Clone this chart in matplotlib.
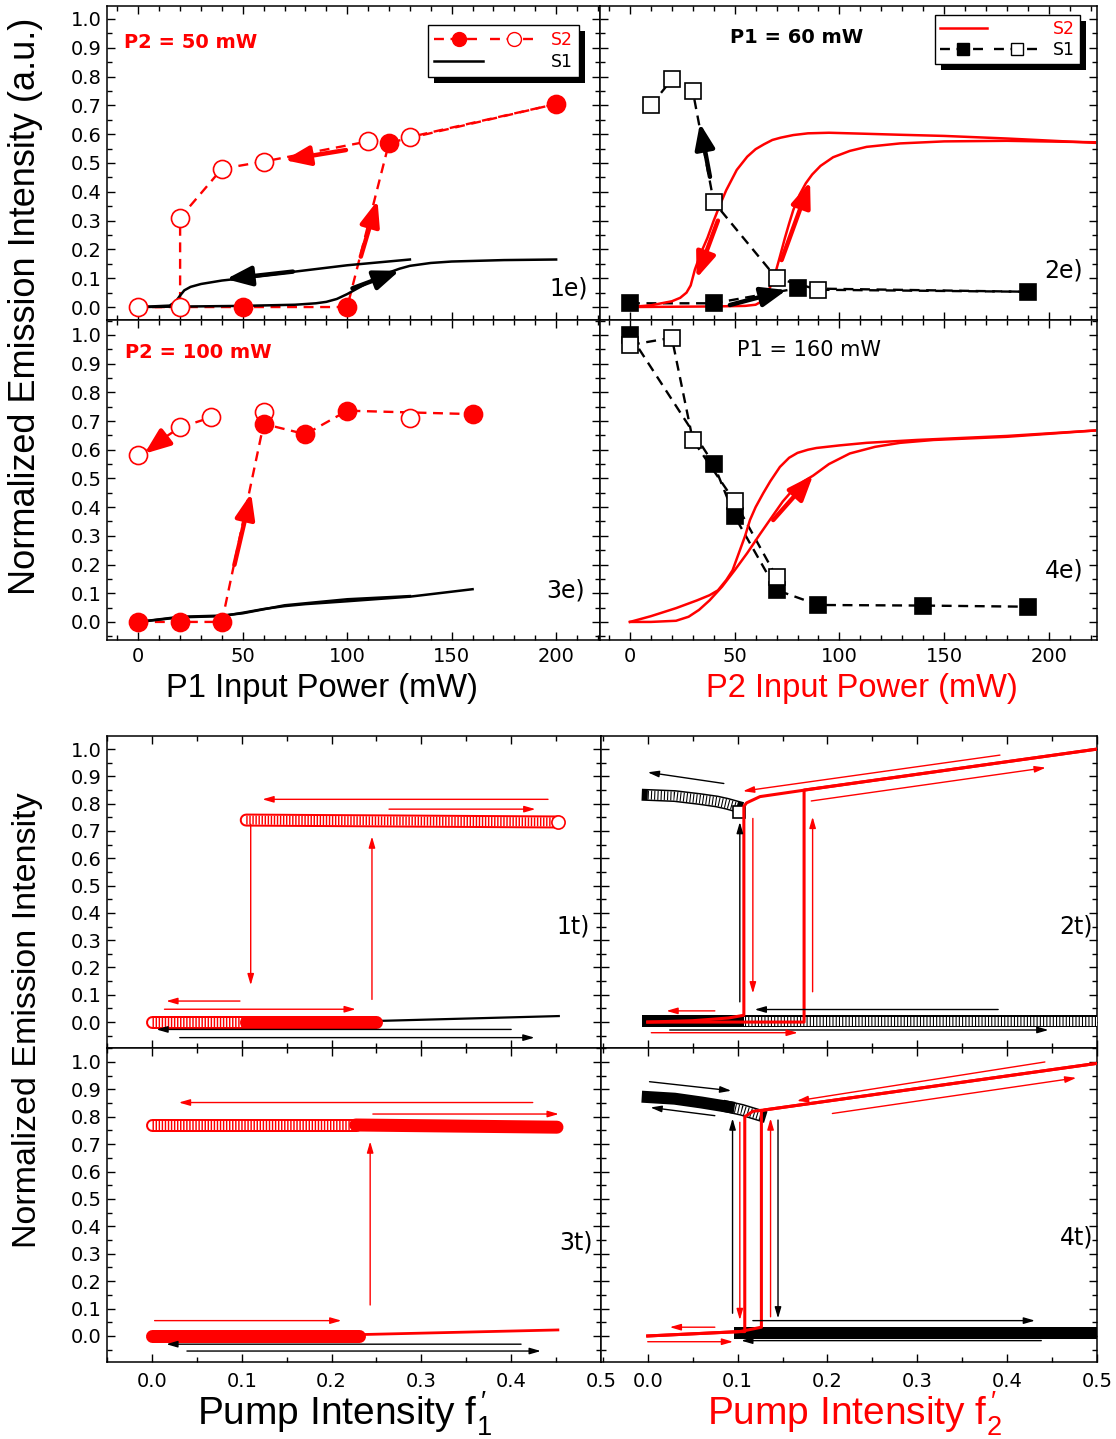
import numpy as np
import matplotlib
matplotlib.use("Agg")
import matplotlib.pyplot as plt
from matplotlib.lines import Line2D
from matplotlib.patches import Rectangle
from matplotlib.transforms import IdentityTransform
from matplotlib.legend_handler import HandlerTuple
from matplotlib.ticker import FixedLocator, MultipleLocator, FormatStrFormatter

plt.rcParams['font.family'] = ['DejaVu Sans']
plt.rcParams['mathtext.fontset'] = 'custom'
plt.rcParams['mathtext.rm'] = 'Liberation Sans'
plt.rcParams['axes.linewidth'] = 1.1

RED = '#ff0000'
W, H = 1116, 1439
PX = 0.72   # points per pixel at dpi 100
LABEL_FONT = 'Liberation Sans'
DASH = (4.2, 2.8)

# ---------------- experiment (top block) ----------------
top_xticks = [0, 50, 100, 150, 200]
bot_xticks = [0.0, 0.1, 0.2, 0.3, 0.4, 0.5]
yticks = [0.0, 0.1, 0.2, 0.3, 0.4, 0.5, 0.6, 0.7, 0.8, 0.9, 1.0]

# 1e: P2 = 50 mW, x = P1 (mW)
e1_s2_fill_x = [50, 100, 120, 200]
e1_s2_fill_y = [0.0, 0.0, 0.57, 0.705]
e1_s2_open_x = [0, 20, 20, 40, 60, 110, 130]
e1_s2_open_y = [0.0, 0.0, 0.31, 0.48, 0.505, 0.575, 0.59]
e1_s1_up_x = [0, 50, 75, 85, 90, 95, 100, 105, 110, 115, 120, 125, 130, 140, 150, 175, 200]
e1_s1_up_y = [0.0, 0.004, 0.008, 0.013, 0.018, 0.028, 0.045, 0.065, 0.085, 0.104, 0.12, 0.133,
              0.143, 0.153, 0.158, 0.163, 0.165]
e1_s1_dn_x = [130, 100, 75, 50, 40, 30, 25, 22, 20, 18, 15, 0]
e1_s1_dn_y = [0.165, 0.145, 0.123, 0.1, 0.092, 0.08, 0.07, 0.058, 0.04, 0.02, 0.005, 0.0]
e1_arrows = [(102.5, 0.065, 125, 0.126, 'black'), (74, 0.123, 42, 0.097, 'black'),
             (106.5, 0.175, 114.5, 0.37, RED), (99.4, 0.545, 70, 0.51, RED)]

# 2e: P1 = 60 mW, x = P2 (mW)
e2_s1_fill_x = [0, 40, 80, 190]
e2_s1_fill_y = [0.013, 0.013, 0.065, 0.053]
e2_s1_open_x = [10, 20, 30, 40, 70, 90]
e2_s1_open_y = [0.70, 0.79, 0.75, 0.365, 0.10, 0.06]
e2_s2_up_x = [0, 40, 55, 60, 63, 65, 67, 69.5, 71.6, 74, 76, 78, 81, 84, 87, 91, 97, 105, 113,
              129, 150, 180, 222]
e2_s2_up_y = [0.0, 0.002, 0.004, 0.008, 0.02, 0.04, 0.07, 0.12, 0.175, 0.24, 0.29, 0.337, 0.39,
              0.43, 0.46, 0.49, 0.52, 0.542, 0.556, 0.568, 0.575, 0.577, 0.572]
e2_s2_dn_x = [222, 180, 150, 129, 110, 95, 85, 78, 72, 68, 64, 60, 56, 51, 46, 43, 40, 37, 34,
              31, 29, 27, 24, 20, 10, 0]
e2_s2_dn_y = [0.57, 0.585, 0.594, 0.598, 0.602, 0.605, 0.603, 0.597, 0.588, 0.58, 0.565, 0.548,
              0.522, 0.476, 0.406, 0.355, 0.30, 0.24, 0.19, 0.13, 0.075, 0.05, 0.032, 0.02,
              0.006, 0.0]
e2_arrows = [(42, 0.30, 31.8, 0.10, RED), (72.4, 0.163, 86, 0.435, RED),
             (38.2, 0.452, 33.4, 0.638, 'black'), (47.7, 0.007, 74.8, 0.059, 'black')]

# 3e: P2 = 100 mW, x = P1 (mW)
e3_s2_fill_x = [0, 20, 40, 60, 80, 100, 160]
e3_s2_fill_y = [0.0, 0.0, 0.0, 0.69, 0.654, 0.736, 0.724]
e3_s2_open_x = [0, 20, 35, 60, 130]
e3_s2_open_y = [0.582, 0.678, 0.713, 0.733, 0.71]
e3_s1_up_x = [0, 20, 40, 50, 60, 70, 80, 100, 130, 160]
e3_s1_up_y = [0.0, 0.016, 0.02, 0.032, 0.045, 0.055, 0.062, 0.072, 0.088, 0.114]
e3_s1_dn_x = [130, 100, 70, 50, 40, 20, 0]
e3_s1_dn_y = [0.09, 0.079, 0.058, 0.03, 0.022, 0.018, 0.0]
e3_arrows = [(13.2, 0.644, 2.9, 0.586, RED), (46, 0.199, 54, 0.448, RED)]

# 4e: P1 = 160 mW, x = P2 (mW)
e4_s1_fill_x = [0, 40, 50, 70, 90, 140, 190]
e4_s1_fill_y = [1.0, 0.55, 0.368, 0.111, 0.059, 0.057, 0.053]
e4_s1_open_x = [0, 20, 30, 50, 70]
e4_s1_open_y = [0.965, 0.99, 0.634, 0.42, 0.156]
e4_s2_up_x = [0, 10, 22, 28, 33, 38, 44, 50, 56, 62, 68, 73, 78, 83, 87.5, 95, 105, 117, 129,
              145, 180, 222]
e4_s2_up_y = [0.0, 0.0, 0.004, 0.018, 0.042, 0.075, 0.123, 0.18, 0.24, 0.305, 0.368, 0.42, 0.462,
              0.49, 0.51, 0.55, 0.587, 0.61, 0.624, 0.634, 0.645, 0.667]
e4_s2_dn_x = [222, 180, 137, 113, 100, 89, 85, 80, 76, 71.6, 67, 63.6, 60, 57.3, 55, 52, 49, 46,
              42, 38, 32, 22, 10, 0]
e4_s2_dn_y = [0.667, 0.648, 0.634, 0.624, 0.615, 0.606, 0.60, 0.589, 0.572, 0.54, 0.49, 0.448,
              0.40, 0.355, 0.30, 0.24, 0.18, 0.146, 0.11, 0.093, 0.075, 0.048, 0.02, 0.0]
e4_arrows = [(68.4, 0.355, 87.5, 0.512, RED)]

# ---------------- theory (bottom block) ----------------
# 1t, x = f'1
t1_open_hi_x, t1_open_hi_y = [0.105, 0.452], [0.740, 0.733]
t1_open_lo_x, t1_open_lo_y = [0.0, 0.105], [0.0, 0.0]
t1_fill_lo_x, t1_fill_lo_y = [0.105, 0.25], [0.0, 0.0]
t1_s1_x, t1_s1_y = [0.0, 0.25, 0.453], [0.0, 0.004, 0.022]
t1_arrows = [(0.441, 0.816, 0.123, 0.816, RED), (0.264, 0.78, 0.427, 0.78, RED),
             (0.11, 0.725, 0.11, 0.135, RED), (0.245, 0.083, 0.245, 0.68, RED),
             (0.098, 0.077, 0.016, 0.077, RED), (0.014, 0.047, 0.227, 0.047, RED),
             (0.40, -0.027, 0.005, -0.027, 'black'), (0.031, -0.057, 0.426, -0.057, 'black')]

# 3t, x = f'1
t3_open_hi_x, t3_open_hi_y = [0.0, 0.227], [0.77, 0.77]
t3_fill_hi_x, t3_fill_hi_y = [0.227, 0.451], [0.77, 0.762]
t3_fill_lo_x, t3_fill_lo_y = [0.0, 0.231], [0.0, 0.0]
t3_s2_x, t3_s2_y = [0.231, 0.452], [0.005, 0.022]
t3_arrows = [(0.424, 0.852, 0.030, 0.852, RED), (0.246, 0.81, 0.453, 0.81, RED),
             (0.243, 0.113, 0.243, 0.71, RED), (0.003, 0.056, 0.211, 0.056, RED),
             (0.411, -0.03, 0.016, -0.03, 'black'), (0.039, -0.055, 0.433, -0.055, 'black')]

# 2t, x = f'2
t2_sq_hi_x = [0.0, 0.03, 0.058, 0.077, 0.088, 0.099]
t2_sq_hi_y = [0.832, 0.828, 0.817, 0.808, 0.80, 0.79]
t2_sq_end_x, t2_sq_end_y = [0.102], [0.77]
t2_sq_lo_fill_x, t2_sq_lo_fill_y = [0.0, 0.1], [0.005, 0.005]
t2_sq_lo_open_x, t2_sq_lo_open_y = [0.1, 0.5], [0.005, 0.005]
t2_s2_up_x = [0.0, 0.174, 0.174, 0.5]
t2_s2_up_y = [0.0, 0.0, 0.85, 1.0]
t2_s2_dn_x = [0.5, 0.175, 0.125, 0.11, 0.107, 0.107, 0.09, 0.05, 0.0]
t2_s2_dn_y = [1.0, 0.85, 0.826, 0.803, 0.79, 0.025, 0.015, 0.005, 0.0]
t2_arrows = [(0.0847, 0.874, 0.0, 0.915, 'black'), (0.1025, 0.074, 0.1025, 0.733, 'black'),
             (0.39, 0.046, 0.119, 0.046, 'black'), (0.0245, -0.029, 0.446, -0.029, 'black'),
             (0.392, 0.978, 0.106, 0.846, RED), (0.182, 0.81, 0.443, 0.932, RED),
             (0.117, 0.746, 0.117, 0.105, RED), (0.1835, 0.111, 0.1835, 0.752, RED),
             (0.0747, 0.041, 0.0208, 0.041, RED), (0.004, -0.039, 0.167, -0.039, RED)]

# 4t, x = f'2
t4_sq_hi_fill_x = [0.0, 0.03, 0.06, 0.09]
t4_sq_hi_fill_y = [0.872, 0.866, 0.852, 0.836]
t4_sq_hi_open_x = [0.09, 0.105, 0.115, 0.125]
t4_sq_hi_open_y = [0.836, 0.825, 0.815, 0.805]
t4_sq_lo_fill_x, t4_sq_lo_fill_y = [0.1025, 0.5], [0.01, 0.01]
t4_s2_up_x = [0.0, 0.1025, 0.1265, 0.1265, 0.13, 0.5]
t4_s2_up_y = [0.0, 0.016, 0.032, 0.82, 0.825, 0.995]
t4_s2_dn_x = [0.5, 0.13, 0.117, 0.108, 0.108, 0.1025, 0.0]
t4_s2_dn_y = [0.995, 0.825, 0.82, 0.80, 0.016, 0.016, 0.0]
t4_arrows = [(0.002, 0.928, 0.093, 0.895, 'black'), (0.0747, 0.804, 0.003, 0.834, 'black'),
             (0.0944, 0.083, 0.0944, 0.794, 'black'), (0.145, 0.788, 0.145, 0.064, 'black'),
             (0.117, 0.056, 0.431, 0.056, 'black'), (0.438, -0.017, 0.104, -0.017, 'black'),
             (0.442, 1.0, 0.166, 0.858, RED), (0.2055, 0.812, 0.477, 0.942, RED),
             (0.1025, 0.78, 0.1025, 0.058, RED), (0.1367, 0.07, 0.1367, 0.794, RED),
             (0.0747, 0.032, 0.0245, 0.032, RED), (0.0, -0.021, 0.095, -0.021, RED)]


fig = plt.figure(figsize=(W / 100, H / 100), dpi=100)


def make_axes(x0, y0, x1, y1):
    return fig.add_axes([x0 / W, 1 - y1 / H, (x1 - x0) / W, (y1 - y0) / H])


def style(ax, xlim, ylim, xticks, xminor, xfmt, show_x, show_y, xpad):
    ax.set_xlim(xlim)
    ax.set_ylim(ylim)
    ax.xaxis.set_major_locator(FixedLocator(xticks))
    ax.xaxis.set_minor_locator(MultipleLocator(xminor))
    ax.yaxis.set_major_locator(FixedLocator(yticks))
    ax.yaxis.set_minor_locator(MultipleLocator(0.05))
    ax.xaxis.set_major_formatter(FormatStrFormatter(xfmt))
    ax.yaxis.set_major_formatter(FormatStrFormatter('%.1f'))
    ax.tick_params(which='both', direction='in', top=True, right=True, width=1.0, labelsize=14)
    ax.tick_params(which='major', length=6)
    ax.tick_params(which='minor', length=3.5)
    ax.tick_params(axis='y', pad=4)
    ax.tick_params(axis='x', pad=xpad)
    ax.tick_params(labelbottom=show_x, labelleft=show_y)


def dashed(ax, x, y, color):
    ax.plot(x, y, color=color, lw=1.7, dashes=DASH, zorder=2)


def markers(ax, x, y, marker, color, filled, ms):
    ax.plot(x, y, ls='none', marker=marker, ms=ms, mew=1.2, mec=color,
            mfc=color if filled else 'white', zorder=3)


def thick_arrow(ax, x0, y0, x1, y1, color):
    ax.annotate('', xy=(x1, y1), xytext=(x0, y0), zorder=5,
                arrowprops=dict(arrowstyle='-|>,head_length=0.85,head_width=0.33', lw=3.2,
                                color=color, mutation_scale=18, shrinkA=0, shrinkB=0))


def thin_arrow(ax, x0, y0, x1, y1, color):
    ax.annotate('', xy=(x1, y1), xytext=(x0, y0), zorder=5,
                arrowprops=dict(arrowstyle='-|>,head_length=0.55,head_width=0.16', lw=1.0,
                                color=color, mutation_scale=12, shrinkA=0, shrinkB=0))


def circle_tube(ax, x, y, filled):
    ax.plot(x, y, color=RED, lw=13 * PX, solid_capstyle='round', zorder=3)
    if not filled:
        ax.plot(x, y, color='white', lw=9 * PX, solid_capstyle='round', zorder=3)
        ax.plot(x, y, color=RED, lw=9 * PX, dashes=(0.16, 0.18), dash_capstyle='butt', zorder=3)


def square_tube(ax, x, y, filled):
    ax.plot(x, y, color='black', lw=12 * PX, solid_capstyle='projecting', zorder=3)
    if not filled:
        ax.plot(x, y, color='white', lw=9 * PX, solid_capstyle='butt', zorder=3)
        ax.plot(x, y, color='black', lw=9 * PX, dashes=(0.12, 0.24), dash_capstyle='butt', zorder=3)


def corner_text(ax, text, x, y):
    ax.text(x, y, text, transform=ax.transAxes, ha='right', va='center', fontsize=17)


def add_shadow(ax, leg):
    fig.canvas.draw()
    bb = leg.get_window_extent()
    ax.add_patch(Rectangle((bb.x0 + 6, bb.y0 - 6), bb.width, bb.height, transform=IdentityTransform(),
                           facecolor='black', edgecolor='none', zorder=4.9, clip_on=False))


ax1 = make_axes(107, 6, 600, 320)
ax2 = make_axes(600, 6, 1097, 320)
ax3 = make_axes(107, 320, 600, 640)
ax4 = make_axes(600, 320, 1097, 640)
bx1 = make_axes(107, 736, 601, 1048)
bx2 = make_axes(601, 736, 1097, 1048)
bx3 = make_axes(107, 1048, 601, 1362)
bx4 = make_axes(601, 1048, 1097, 1362)

style(ax1, (-15, 221), (-0.045, 1.045), top_xticks, 10, '%d', False, True, 5)
style(ax2, (-14.3, 223), (-0.045, 1.045), top_xticks, 10, '%d', False, False, 5)
style(ax3, (-15, 221), (-0.063, 1.052), top_xticks, 10, '%d', True, True, 5)
style(ax4, (-14.3, 223), (-0.063, 1.052), top_xticks, 10, '%d', True, False, 5)
style(bx1, (-0.05, 0.5), (-0.095, 1.048), bot_xticks, 0.05, '%.1f', False, True, 7)
style(bx2, (-0.052, 0.5), (-0.095, 1.048), bot_xticks, 0.05, '%.1f', False, False, 7)
style(bx3, (-0.05, 0.5), (-0.095, 1.051), bot_xticks, 0.05, '%.1f', True, True, 7)
style(bx4, (-0.052, 0.5), (-0.095, 1.051), bot_xticks, 0.05, '%.1f', True, False, 7)

# ---- 1e
dashed(ax1, e1_s2_open_x[:2] + e1_s2_fill_x, e1_s2_open_y[:2] + e1_s2_fill_y, RED)
dashed(ax1, e1_s2_fill_x[-1:] + e1_s2_open_x[::-1], e1_s2_fill_y[-1:] + e1_s2_open_y[::-1], RED)
ax1.plot(e1_s1_up_x, e1_s1_up_y, color='black', lw=1.8, zorder=2)
ax1.plot(e1_s1_dn_x, e1_s1_dn_y, color='black', lw=1.8, zorder=2)
markers(ax1, e1_s2_fill_x, e1_s2_fill_y, 'o', RED, True, 13)
markers(ax1, e1_s2_open_x, e1_s2_open_y, 'o', RED, False, 13)
for a in e1_arrows:
    thick_arrow(ax1, *a)
ax1.text(0.0345, 0.885, 'P2 = 50 mW', transform=ax1.transAxes, color=RED, fontsize=14,
         fontweight='bold', va='center')
corner_text(ax1, '1e)', 0.976, 0.099)
h_fill = Line2D([], [], color=RED, lw=1.7, dashes=DASH, marker='o', ms=10, mec=RED, mfc=RED)
h_open = Line2D([], [], color=RED, lw=1.7, dashes=DASH, marker='o', ms=10, mec=RED, mfc='white')
h_s1 = Line2D([], [], color='black', lw=1.8)
h_blank = Line2D([], [], color='none')
leg1 = ax1.legend([(h_fill, h_open), (h_s1, h_blank)], ['S2', 'S1'],
                  handler_map={tuple: HandlerTuple(ndivide=None, pad=0.4)},
                  loc='upper right', bbox_to_anchor=(0.957, 0.939), borderaxespad=0,
                  fancybox=False, edgecolor='black', framealpha=1, fontsize=12.5,
                  handlelength=6.0, handletextpad=0.7, borderpad=0.35, labelspacing=0.2,
                  labelcolor=[RED, 'black'])
leg1.get_frame().set_linewidth(1.0)

# ---- 2e
dashed(ax2, e2_s1_fill_x, e2_s1_fill_y, 'black')
dashed(ax2, e2_s1_fill_x[-1:] + e2_s1_open_x[::-1], e2_s1_fill_y[-1:] + e2_s1_open_y[::-1], 'black')
ax2.plot(e2_s2_up_x, e2_s2_up_y, color=RED, lw=1.8, zorder=2)
ax2.plot(e2_s2_dn_x, e2_s2_dn_y, color=RED, lw=1.8, zorder=2)
markers(ax2, e2_s1_fill_x, e2_s1_fill_y, 's', 'black', True, 12)
markers(ax2, e2_s1_open_x, e2_s1_open_y, 's', 'black', False, 12)
for a in e2_arrows:
    thick_arrow(ax2, *a)
ax2.text(0.396, 0.901, 'P1 = 60 mW', transform=ax2.transAxes, color='black', fontsize=14,
         fontweight='bold', va='center', ha='center')
corner_text(ax2, '2e)', 0.972, 0.159)
h_s2 = Line2D([], [], color=RED, lw=1.8)
h_sqf = Line2D([], [], color='black', lw=1.7, dashes=DASH, marker='s', ms=9, mec='black', mfc='black')
h_sqo = Line2D([], [], color='black', lw=1.7, dashes=DASH, marker='s', ms=9, mec='black', mfc='white')
leg2 = ax2.legend([(h_s2, h_blank), (h_sqf, h_sqo)], ['S2', 'S1'],
                  handler_map={tuple: HandlerTuple(ndivide=None, pad=0.4)},
                  loc='upper right', bbox_to_anchor=(0.966, 0.971), borderaxespad=0,
                  fancybox=False, edgecolor='black', framealpha=1, fontsize=12.5,
                  handlelength=5.8, handletextpad=0.7, borderpad=0.3, labelspacing=0.15,
                  labelcolor=[RED, 'black'])
leg2.get_frame().set_linewidth(1.0)

# ---- 3e
dashed(ax3, e3_s2_fill_x, e3_s2_fill_y, RED)
dashed(ax3, e3_s2_open_x[:3], e3_s2_open_y[:3], RED)
ax3.plot(e3_s1_up_x, e3_s1_up_y, color='black', lw=1.8, zorder=2)
ax3.plot(e3_s1_dn_x, e3_s1_dn_y, color='black', lw=1.8, zorder=2)
markers(ax3, e3_s2_open_x, e3_s2_open_y, 'o', RED, False, 13)
markers(ax3, e3_s2_fill_x, e3_s2_fill_y, 'o', RED, True, 13)
for a in e3_arrows:
    thick_arrow(ax3, *a)
ax3.text(0.036, 0.897, 'P2 = 100 mW', transform=ax3.transAxes, color=RED, fontsize=14,
         fontweight='bold', va='center')
corner_text(ax3, '3e)', 0.970, 0.156)

# ---- 4e
dashed(ax4, e4_s1_fill_x, e4_s1_fill_y, 'black')
dashed(ax4, e4_s1_open_x, e4_s1_open_y, 'black')
ax4.plot(e4_s2_up_x, e4_s2_up_y, color=RED, lw=1.8, zorder=2)
ax4.plot(e4_s2_dn_x, e4_s2_dn_y, color=RED, lw=1.8, zorder=2)
markers(ax4, e4_s1_fill_x, e4_s1_fill_y, 's', 'black', True, 12)
markers(ax4, e4_s1_open_x, e4_s1_open_y, 's', 'black', False, 12)
for a in e4_arrows:
    thick_arrow(ax4, *a)
ax4.text(0.42, 0.906, 'P1 = 160 mW', transform=ax4.transAxes, color='black', fontsize=15,
         va='center', ha='center')
corner_text(ax4, '4e)', 0.972, 0.216)

# ---- 1t
bx1.plot(t1_s1_x, t1_s1_y, color='black', lw=1.6, zorder=2)
circle_tube(bx1, t1_open_hi_x, t1_open_hi_y, False)
markers(bx1, t1_open_hi_x[-1:], t1_open_hi_y[-1:], 'o', RED, False, 9.5)
circle_tube(bx1, t1_open_lo_x, t1_open_lo_y, False)
circle_tube(bx1, t1_fill_lo_x, t1_fill_lo_y, True)
for a in t1_arrows:
    thin_arrow(bx1, *a)
corner_text(bx1, '1t)', 0.978, 0.388)

# ---- 2t
square_tube(bx2, t2_sq_hi_x, t2_sq_hi_y, False)
markers(bx2, t2_sq_end_x, t2_sq_end_y, 's', 'black', False, 8.5)
square_tube(bx2, t2_sq_lo_open_x, t2_sq_lo_open_y, False)
square_tube(bx2, t2_sq_lo_fill_x, t2_sq_lo_fill_y, True)
bx2.plot(t2_s2_up_x, t2_s2_up_y, color=RED, lw=2.2, zorder=4)
bx2.plot(t2_s2_dn_x, t2_s2_dn_y, color=RED, lw=2.2, zorder=4)
for a in t2_arrows:
    thin_arrow(bx2, *a)
corner_text(bx2, '2t)', 0.992, 0.391)

# ---- 3t
circle_tube(bx3, t3_open_hi_x, t3_open_hi_y, False)
circle_tube(bx3, t3_fill_hi_x, t3_fill_hi_y, True)
circle_tube(bx3, t3_fill_lo_x, t3_fill_lo_y, True)
bx3.plot(t3_s2_x, t3_s2_y, color=RED, lw=2.0, zorder=2)
for a in t3_arrows:
    thin_arrow(bx3, *a)
corner_text(bx3, '3t)', 0.984, 0.379)

# ---- 4t
square_tube(bx4, t4_sq_hi_open_x, t4_sq_hi_open_y, False)
square_tube(bx4, t4_sq_hi_fill_x, t4_sq_hi_fill_y, True)
square_tube(bx4, t4_sq_lo_fill_x, t4_sq_lo_fill_y, True)
bx4.plot(t4_s2_up_x, t4_s2_up_y, color=RED, lw=2.2, zorder=4)
bx4.plot(t4_s2_dn_x, t4_s2_dn_y, color=RED, lw=2.2, zorder=4)
for a in t4_arrows:
    thin_arrow(bx4, *a)
corner_text(bx4, '4t)', 0.992, 0.398)

# ---- shared axis labels
fig.text(26 / W, 1 - 306 / H, 'Normalized Emission Intensity (a.u.)', rotation=90, ha='center',
         va='center', fontsize=26, family=LABEL_FONT)
fig.text(322 / W, 1 - 688 / H, 'P1 Input Power (mW)', ha='center', va='center', fontsize=23.5,
         family=LABEL_FONT)
fig.text(862 / W, 1 - 688 / H, 'P2 Input Power (mW)', ha='center', va='center', fontsize=23.5,
         family=LABEL_FONT, color=RED)
fig.text(28 / W, 1 - 1020 / H, 'Normalized Emission Intensity', rotation=90, ha='center',
         va='center', fontsize=24.5, family=LABEL_FONT)
fig.text(197 / W, 1 - 1425 / H, r"Pump Intensity f$\mathregular{_{1}^{\,\prime}}$", ha='left',
         va='baseline', fontsize=28, family=LABEL_FONT)
fig.text(707 / W, 1 - 1425 / H, r"Pump Intensity f$\mathregular{_{2}^{\,\prime}}$", ha='left',
         va='baseline', fontsize=28, family=LABEL_FONT, color=RED)

add_shadow(ax1, leg1)
add_shadow(ax2, leg2)

fig.savefig('out.png', dpi=100)
